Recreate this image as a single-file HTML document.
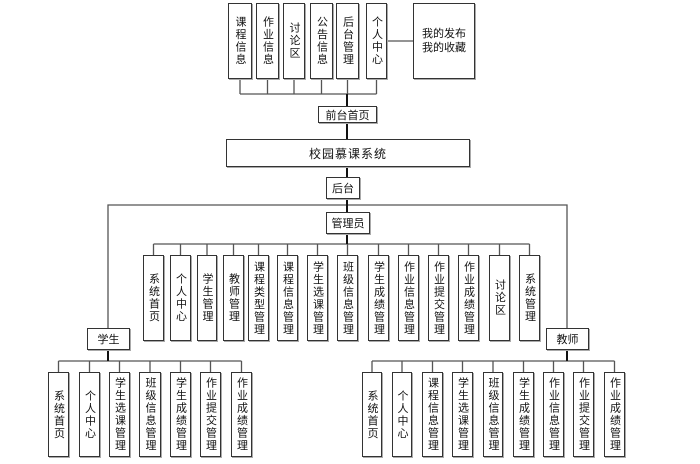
<!DOCTYPE html>
<html><head><meta charset="utf-8">
<style>
body{margin:0;width:700px;height:464px;background:#fff;position:relative;overflow:hidden;font-family:"Liberation Sans","Noto Sans CJK SC",sans-serif;color:#111}
.b{position:absolute;box-sizing:border-box;border:1.5px solid #333;background:#fff;display:flex;align-items:center;justify-content:center;font-size:11px;box-shadow:1px 1px 0 #aaa}
.v{writing-mode:vertical-rl;text-orientation:upright;letter-spacing:1.5px;line-height:12px}
svg{position:absolute;left:0;top:0}
</style></head><body>
<svg width="700" height="464">
<g stroke="#555" stroke-width="1.3" fill="none">
<path d="M240 79V94M267.5 79V94M294 79V94M321.5 79V94M347.5 79V94M376.5 79V94M240 94H376.5"/>
<path d="M387 41H413"/>
<path d="M108 328V205H567V328"/>
<path d="M153.5 244H529.5M153.5 244V255M180.5 244V255M207 244V255M233.5 244V255M258.5 244V255M287.5 244V255M317.5 244V255M347.5 244V255M378.5 244V255M408.5 244V255M438.5 244V255M468.5 244V255M499.5 244V255M529.5 244V255"/>
<path d="M58.5 361H241.5M58.5 361V372M89.5 361V372M119.5 361V372M150 361V372M180.5 361V372M210.5 361V372M241.5 361V372"/>
<path d="M372 361H614.5M372 361V372M402 361V372M432.5 361V372M462.5 361V372M493 361V372M523.5 361V372M553.5 361V372M583.5 361V372M614.5 361V372"/>
</g>
<g stroke="#111" stroke-width="2" fill="none">
<path d="M347 94V106M347 123V139M347 167V177M347 199V212M347 234V244M108 350V361M567 350V361"/>
</g>
</svg>

<div class="b" style="left:228px;top:3px;width:24px;height:76px"><span class="v">课程信息</span></div>
<div class="b" style="left:256px;top:3px;width:23px;height:76px"><span class="v">作业信息</span></div>
<div class="b" style="left:283px;top:3px;width:22px;height:76px"><span class="v">讨论区</span></div>
<div class="b" style="left:310px;top:3px;width:23px;height:76px"><span class="v">公告信息</span></div>
<div class="b" style="left:336px;top:3px;width:23px;height:76px"><span class="v">后台管理</span></div>
<div class="b" style="left:366px;top:3px;width:21px;height:76px"><span class="v">个人中心</span></div>
<div class="b" style="left:413px;top:3px;width:62px;height:76px;line-height:14px;text-align:center">我的发布<br>我的收藏</div>

<div class="b" style="left:318px;top:106px;width:59px;height:17px">前台首页</div>
<div class="b" style="left:226px;top:139px;width:244px;height:28px;font-size:12px;letter-spacing:1px">校园慕课系统</div>
<div class="b" style="left:326px;top:177px;width:34px;height:22px">后台</div>
<div class="b" style="left:326px;top:212px;width:44px;height:22px">管理员</div>

<div class="b" style="left:143px;top:255px;width:21px;height:86px"><span class="v">系统首页</span></div>
<div class="b" style="left:170px;top:255px;width:21px;height:86px"><span class="v">个人中心</span></div>
<div class="b" style="left:197px;top:255px;width:20px;height:86px"><span class="v">学生管理</span></div>
<div class="b" style="left:223px;top:255px;width:21px;height:86px"><span class="v">教师管理</span></div>
<div class="b" style="left:248px;top:255px;width:21px;height:86px"><span class="v">课程类型管理</span></div>
<div class="b" style="left:277px;top:255px;width:21px;height:86px"><span class="v">课程信息管理</span></div>
<div class="b" style="left:307px;top:255px;width:21px;height:86px"><span class="v">学生选课管理</span></div>
<div class="b" style="left:337px;top:255px;width:21px;height:86px"><span class="v">班级信息管理</span></div>
<div class="b" style="left:368px;top:255px;width:21px;height:86px"><span class="v">学生成绩管理</span></div>
<div class="b" style="left:398px;top:255px;width:21px;height:86px"><span class="v">作业信息管理</span></div>
<div class="b" style="left:428px;top:255px;width:21px;height:86px"><span class="v">作业提交管理</span></div>
<div class="b" style="left:458px;top:255px;width:21px;height:86px"><span class="v">作业成绩管理</span></div>
<div class="b" style="left:489px;top:255px;width:21px;height:86px"><span class="v">讨论区</span></div>
<div class="b" style="left:519px;top:255px;width:21px;height:86px"><span class="v">系统管理</span></div>

<div class="b" style="left:87px;top:328px;width:43px;height:22px">学生</div>
<div class="b" style="left:546px;top:328px;width:43px;height:22px">教师</div>

<div class="b" style="left:48px;top:372px;width:21px;height:85px"><span class="v">系统首页</span></div>
<div class="b" style="left:79px;top:372px;width:21px;height:85px"><span class="v">个人中心</span></div>
<div class="b" style="left:109px;top:372px;width:21px;height:85px"><span class="v">学生选课管理</span></div>
<div class="b" style="left:139px;top:372px;width:22px;height:85px"><span class="v">班级信息管理</span></div>
<div class="b" style="left:170px;top:372px;width:21px;height:85px"><span class="v">学生成绩管理</span></div>
<div class="b" style="left:200px;top:372px;width:21px;height:85px"><span class="v">作业提交管理</span></div>
<div class="b" style="left:231px;top:372px;width:21px;height:85px"><span class="v">作业成绩管理</span></div>

<div class="b" style="left:362px;top:372px;width:20px;height:85px"><span class="v">系统首页</span></div>
<div class="b" style="left:392px;top:372px;width:20px;height:85px"><span class="v">个人中心</span></div>
<div class="b" style="left:422px;top:372px;width:21px;height:85px"><span class="v">课程信息管理</span></div>
<div class="b" style="left:452px;top:372px;width:21px;height:85px"><span class="v">学生选课管理</span></div>
<div class="b" style="left:483px;top:372px;width:20px;height:85px"><span class="v">班级信息管理</span></div>
<div class="b" style="left:513px;top:372px;width:21px;height:85px"><span class="v">学生成绩管理</span></div>
<div class="b" style="left:543px;top:372px;width:21px;height:85px"><span class="v">作业信息管理</span></div>
<div class="b" style="left:573px;top:372px;width:21px;height:85px"><span class="v">作业提交管理</span></div>
<div class="b" style="left:604px;top:372px;width:21px;height:85px"><span class="v">作业成绩管理</span></div>
</body></html>
